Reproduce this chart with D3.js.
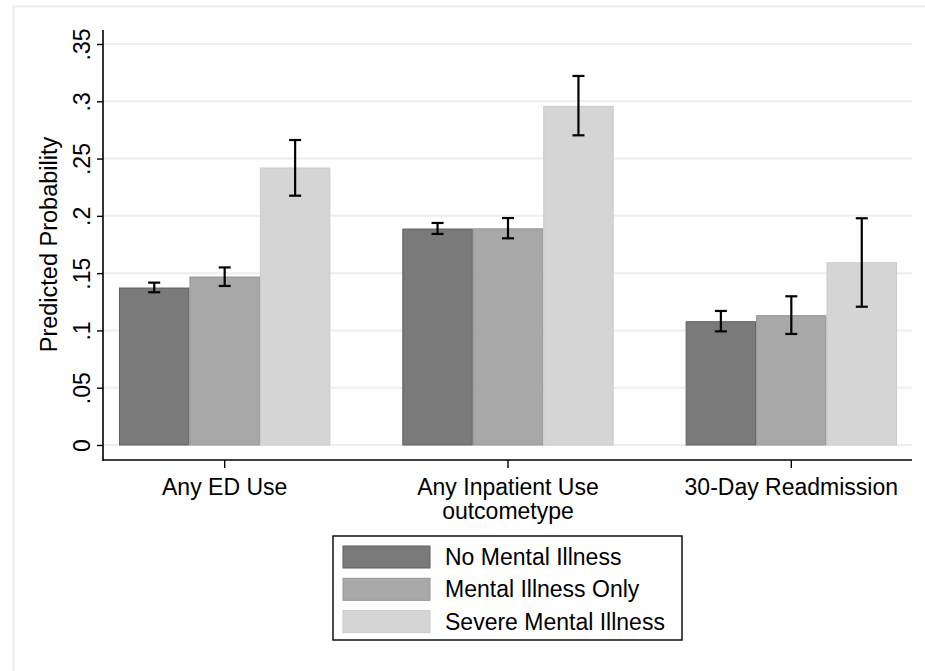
<!DOCTYPE html>
<html>
<head>
<meta charset="utf-8">
<script src="https://cdn.jsdelivr.net/npm/d3@7"></script>
<style>
  body { margin: 0; background: #fff; }
  text { font-family: "Liberation Sans", Arial, Helvetica, sans-serif; fill: #000; }
</style>
</head>
<body>
<svg id="chart" width="925" height="671"></svg>
<script>
// ---- data ----
const categories = ["Any ED Use", "Any Inpatient Use", "30-Day Readmission"];
const seriesNames = ["No Mental Illness", "Mental Illness Only", "Severe Mental Illness"];
const noMental   = [0.137, 0.1885, 0.1076];
const mentalOnly = [0.1466, 0.1887, 0.1129];
const severe     = [0.2418, 0.2956, 0.1591];
const noMentalLo   = [0.1333, 0.1842, 0.0992];
const noMentalHi   = [0.1417, 0.1938, 0.1170];
const mentalOnlyLo = [0.1388, 0.1804, 0.0969];
const mentalOnlyHi = [0.1550, 0.1981, 0.1298];
const severeLo     = [0.2176, 0.2703, 0.1207];
const severeHi     = [0.2662, 0.3221, 0.1979];
const yTicks = [0, 0.05, 0.1, 0.15, 0.2, 0.25, 0.3, 0.35];
const yTickLabels = ["0", ".05", ".1", ".15", ".2", ".25", ".3", ".35"];
const xTitle = "outcometype";
const yTitle = "Predicted Probability";

const values = [noMental, mentalOnly, severe];
const los = [noMentalLo, mentalOnlyLo, severeLo];
const his = [noMentalHi, mentalOnlyHi, severeHi];
const fills = ["#7a7a7a", "#a8a8a8", "#d5d5d5"];
const strokes = ["#5f5f5f", "#959595", "#cacaca"];

const svg = d3.select("#chart");

// outer frame (Stata graph region)
svg.append("rect").attr("x", 13.5).attr("y", 6.5).attr("width", 930).attr("height", 680)
  .attr("fill", "none").attr("stroke", "#e6eef2").attr("stroke-width", 2);

const y = d3.scaleLinear().domain([0, 0.35]).range([445, 44]);
const x = d3.scaleBand().domain(categories).range([119, 897]).paddingInner(0.254).paddingOuter(0);
const xs = d3.scaleBand().domain(seriesNames).range([0, x.bandwidth()]).padding(0);

const axisX0 = 103, axisX1 = 912, axisYBottom = 460;

// gridlines
svg.append("g").selectAll("line").data(yTicks).join("line")
  .attr("x1", axisX0).attr("x2", axisX1)
  .attr("y1", d => y(d)).attr("y2", d => y(d))
  .attr("stroke", "#e9f0f2").attr("stroke-width", 2);

// bars
const rows = [];
seriesNames.forEach((s, si) => categories.forEach((c, ci) => {
  rows.push({ s, si, c, v: values[si][ci], lo: los[si][ci], hi: his[si][ci] });
}));

svg.append("g").selectAll("rect").data(rows).join("rect")
  .attr("x", d => x(d.c) + xs(d.s) + 0.5)
  .attr("width", xs.bandwidth() - 1)
  .attr("y", d => y(d.v))
  .attr("height", d => y(0) - y(d.v))
  .attr("fill", d => fills[d.si])
  .attr("stroke", d => strokes[d.si])
  .attr("stroke-width", 1);

// error bars
const eg = svg.append("g").attr("stroke", "#000").attr("stroke-width", 2.2);
rows.forEach(d => {
  const cx = x(d.c) + xs(d.s) + xs.bandwidth() / 2;
  eg.append("line").attr("x1", cx).attr("x2", cx).attr("y1", y(d.hi)).attr("y2", y(d.lo));
  eg.append("line").attr("x1", cx - 6).attr("x2", cx + 6).attr("y1", y(d.hi)).attr("y2", y(d.hi));
  eg.append("line").attr("x1", cx - 6).attr("x2", cx + 6).attr("y1", y(d.lo)).attr("y2", y(d.lo));
});

// y axis
const yAxis = d3.axisLeft(y).tickValues(yTicks).tickFormat((d, i) => yTickLabels[i]).tickSize(6).tickPadding(0);
const gy = svg.append("g").attr("transform", `translate(${axisX0},0)`).call(yAxis);
gy.select(".domain").remove();
gy.append("line").attr("x1", 0).attr("x2", 0).attr("y1", 30).attr("y2", axisYBottom + 1)
  .attr("stroke", "#000").attr("stroke-width", 1.6);
gy.selectAll(".tick line").attr("stroke", "#000").attr("stroke-width", 1.4);
gy.selectAll(".tick text")
  .attr("x", 0).attr("y", 0).attr("dy", 0)
  .attr("transform", "translate(-13,0) rotate(-90)")
  .attr("text-anchor", "middle")
  .style("font-size", "23px")
  .style("font-family", "'Liberation Sans', Arial, sans-serif")
  .attr("fill", "#000");

// x axis
const xAxis = d3.axisBottom(x).tickSize(8).tickPadding(0).tickFormat(() => "");
const gx = svg.append("g").attr("transform", `translate(0,${axisYBottom})`).call(xAxis);
gx.select(".domain").remove();
gx.append("line").attr("x1", axisX0).attr("x2", axisX1).attr("y1", 0).attr("y2", 0)
  .attr("stroke", "#000").attr("stroke-width", 1.6);
gx.selectAll(".tick line").attr("stroke", "#000").attr("stroke-width", 1.4);

svg.append("g").selectAll("text").data(categories).join("text")
  .attr("x", d => x(d) + x.bandwidth() / 2)
  .attr("y", 495)
  .attr("text-anchor", "middle")
  .style("font-size", "23px")
  .text(d => d);

svg.append("text")
  .attr("x", x(categories[1]) + x.bandwidth() / 2)
  .attr("y", 519)
  .attr("text-anchor", "middle")
  .style("font-size", "23px")
  .text(xTitle);

// y title
svg.append("text")
  .attr("transform", `translate(57,${(44 + 445) / 2}) rotate(-90)`)
  .attr("text-anchor", "middle")
  .style("font-size", "23.5px")
  .text(yTitle);

// legend
const lg = svg.append("g");
lg.append("rect").attr("x", 333).attr("y", 536).attr("width", 349).attr("height", 104)
  .attr("fill", "#fff").attr("stroke", "#000").attr("stroke-width", 1.4);
const legendRows = lg.selectAll("g").data(seriesNames).join("g")
  .attr("transform", (d, i) => `translate(343,${546 + i * 32.3})`);
legendRows.append("rect").attr("width", 87).attr("height", 22)
  .attr("fill", (d, i) => fills[i]).attr("stroke", (d, i) => strokes[i]).attr("stroke-width", 1);
legendRows.append("text").attr("x", 102).attr("y", 19)
  .style("font-size", "23px").text(d => d);
</script>
</body>
</html>
